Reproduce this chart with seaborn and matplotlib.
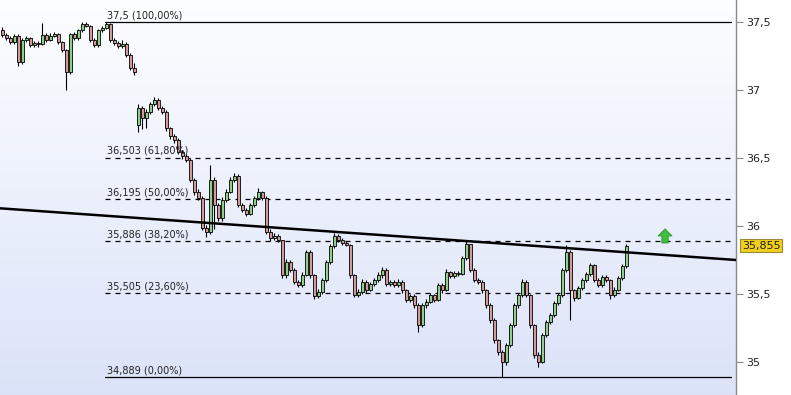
import numpy as np
import pandas as pd
import seaborn as sns
import matplotlib
matplotlib.use("Agg")
import matplotlib.pyplot as plt

# ---------------- data ----------------
opens = [37.441, 37.405, 37.383, 37.353, 37.397, 37.206, 37.368, 37.383, 37.331, 37.346,
         37.338, 37.405, 37.368, 37.397, 37.412, 37.353, 37.294, 37.133, 37.412, 37.383,
         37.441, 37.486, 37.471, 37.368, 37.331, 37.441, 37.456, 37.486, 37.368, 37.346,
         37.324, 37.338, 37.258, 37.162, 36.743, 36.868, 36.794, 36.838, 36.897, 36.927,
         36.868, 36.838, 36.721, 36.662, 36.633, 36.544, 36.515, 36.486, 36.338, 36.250,
         36.206, 35.986, 35.956, 36.338, 36.155, 36.059, 36.191, 36.250, 36.338, 36.368,
         36.155, 36.118, 36.088, 36.155, 36.206, 36.250, 36.206, 35.956, 35.912, 35.927,
         35.897, 35.640, 35.735, 35.677, 35.588, 35.566, 35.640, 35.809, 35.640, 35.485,
         35.515, 35.603, 35.735, 35.853, 35.927, 35.897, 35.875, 35.861, 35.640, 35.493,
         35.515, 35.588, 35.529, 35.574, 35.603, 35.640, 35.677, 35.574, 35.588, 35.566,
         35.588, 35.529, 35.456, 35.485, 35.419, 35.272, 35.419, 35.441, 35.493, 35.456,
         35.566, 35.529, 35.662, 35.633, 35.655, 35.647, 35.765, 35.868, 35.677, 35.603,
         35.588, 35.529, 35.419, 35.309, 35.162, 35.074, 35.000, 35.125, 35.272, 35.419,
         35.493, 35.588, 35.493, 35.272, 35.052, 35.000, 35.199, 35.294, 35.346, 35.434,
         35.493, 35.677, 35.809, 35.529, 35.471, 35.544, 35.603, 35.647, 35.713, 35.603,
         35.566, 35.625, 35.603, 35.493, 35.529, 35.618, 35.706]
highs = [37.46, 37.42, 37.40, 37.41, 37.41, 37.38, 37.40, 37.39, 37.36, 37.36,
         37.49, 37.42, 37.42, 37.43, 37.42, 37.36, 37.30, 37.42, 37.43, 37.45,
         37.50, 37.50, 37.48, 37.38, 37.45, 37.47, 37.50, 37.49, 37.38, 37.36,
         37.37, 37.35, 37.27, 37.20, 36.90, 36.88, 36.86, 36.91, 36.95, 36.94,
         36.88, 36.85, 36.73, 36.68, 36.65, 36.56, 36.53, 36.50, 36.35, 36.27,
         36.22, 36.01, 36.45, 36.36, 36.17, 36.21, 36.27, 36.36, 36.39, 36.38,
         36.17, 36.13, 36.17, 36.22, 36.28, 36.26, 36.22, 35.98, 35.95, 35.94,
         35.90, 35.76, 35.75, 35.69, 35.60, 35.66, 35.82, 35.82, 35.65, 35.54,
         35.62, 35.75, 35.87, 35.95, 35.94, 35.91, 35.89, 35.87, 35.65, 35.54,
         35.61, 35.60, 35.59, 35.62, 35.66, 35.70, 35.69, 35.60, 35.60, 35.61,
         35.60, 35.54, 35.50, 35.50, 35.43, 35.43, 35.46, 35.51, 35.50, 35.58,
         35.58, 35.68, 35.67, 35.67, 35.67, 35.78, 35.89, 35.87, 35.69, 35.62,
         35.60, 35.54, 35.43, 35.32, 35.17, 35.09, 35.14, 35.29, 35.43, 35.51,
         35.61, 35.60, 35.50, 35.28, 35.07, 35.21, 35.31, 35.36, 35.45, 35.51,
         35.69, 35.86, 35.82, 35.54, 35.56, 35.62, 35.66, 35.73, 35.72, 35.62,
         35.64, 35.64, 35.61, 35.55, 35.63, 35.72, 35.87]
lows = [37.39, 37.37, 37.34, 37.34, 37.18, 37.19, 37.35, 37.32, 37.32, 37.32,
        37.33, 37.35, 37.36, 37.39, 37.34, 37.28, 37.00, 37.12, 37.37, 37.37,
        37.43, 37.46, 37.35, 37.32, 37.32, 37.43, 37.45, 37.35, 37.33, 37.31,
        37.31, 37.24, 37.15, 37.11, 36.69, 36.71, 36.72, 36.82, 36.88, 36.85,
        36.82, 36.70, 36.64, 36.61, 36.53, 36.49, 36.47, 36.32, 36.23, 36.19,
        35.97, 35.92, 35.94, 35.98, 36.04, 36.04, 36.18, 36.24, 36.32, 36.14,
        36.10, 36.07, 36.08, 36.14, 36.19, 36.19, 35.94, 35.89, 35.90, 35.88,
        35.62, 35.62, 35.66, 35.57, 35.55, 35.55, 35.63, 35.62, 35.46, 35.47,
        35.50, 35.59, 35.72, 35.84, 35.88, 35.86, 35.85, 35.62, 35.48, 35.48,
        35.50, 35.51, 35.52, 35.56, 35.59, 35.62, 35.56, 35.56, 35.55, 35.55,
        35.51, 35.44, 35.44, 35.40, 35.22, 35.26, 35.40, 35.43, 35.44, 35.45,
        35.51, 35.52, 35.62, 35.62, 35.63, 35.64, 35.75, 35.66, 35.59, 35.57,
        35.51, 35.40, 35.29, 35.14, 35.05, 34.89, 34.98, 35.11, 35.26, 35.40,
        35.48, 35.48, 35.25, 35.03, 34.96, 34.99, 35.18, 35.28, 35.33, 35.42,
        35.48, 35.66, 35.31, 35.45, 35.46, 35.53, 35.59, 35.63, 35.59, 35.55,
        35.55, 35.59, 35.46, 35.48, 35.52, 35.60, 35.69]
closes = [37.405, 37.383, 37.353, 37.397, 37.206, 37.368, 37.383, 37.331, 37.346, 37.338,
          37.405, 37.368, 37.397, 37.412, 37.353, 37.294, 37.133, 37.412, 37.383, 37.441,
          37.486, 37.471, 37.368, 37.331, 37.441, 37.456, 37.486, 37.368, 37.346, 37.324,
          37.338, 37.258, 37.162, 37.133, 36.868, 36.794, 36.838, 36.897, 36.927, 36.868,
          36.838, 36.721, 36.662, 36.633, 36.544, 36.515, 36.486, 36.338, 36.250, 36.206,
          35.986, 35.956, 36.338, 36.155, 36.059, 36.191, 36.250, 36.338, 36.368, 36.155,
          36.118, 36.088, 36.155, 36.206, 36.250, 36.206, 35.956, 35.912, 35.927, 35.897,
          35.640, 35.735, 35.677, 35.588, 35.566, 35.640, 35.809, 35.640, 35.485, 35.515,
          35.603, 35.735, 35.853, 35.927, 35.897, 35.875, 35.861, 35.640, 35.493, 35.515,
          35.588, 35.529, 35.574, 35.603, 35.640, 35.677, 35.574, 35.588, 35.566, 35.588,
          35.529, 35.456, 35.485, 35.419, 35.272, 35.419, 35.441, 35.493, 35.456, 35.566,
          35.529, 35.662, 35.633, 35.655, 35.647, 35.765, 35.868, 35.677, 35.603, 35.588,
          35.529, 35.419, 35.309, 35.162, 35.074, 35.000, 35.125, 35.272, 35.419, 35.493,
          35.588, 35.493, 35.272, 35.052, 35.000, 35.199, 35.294, 35.346, 35.434, 35.493,
          35.677, 35.809, 35.529, 35.471, 35.544, 35.603, 35.647, 35.713, 35.603, 35.566,
          35.625, 35.603, 35.493, 35.529, 35.618, 35.706, 35.855]

fib_levels = [37.5, 36.503, 36.195, 35.886, 35.505, 34.889]
fib_labels = ["37,5 (100,00%)", "36,503 (61,80%)", "36,195 (50,00%)",
              "35,886 (38,20%)", "35,505 (23,60%)", "34,889 (0,00%)"]
fib_solid = [True, False, False, False, False, True]

trend_x = [-0.5, 183.5]
trend_y = [36.13, 35.75]

yticks = [35.0, 35.5, 36.0, 36.5, 37.0, 37.5]
ytick_labels = ["35", "35,5", "36", "36,5", "37", "37,5"]
last_price = 35.855
last_label = "35,855"
signal_x = 165.75
signal_y = [35.875, 35.978]

# ---------------- figure ----------------
sns.set_theme(style="white")
plt.rcParams['font.family'] = ['DejaVu Sans']

W, H = 791, 395
fig = plt.figure(figsize=(W / 100, H / 100), dpi=100)
fig.patch.set_facecolor("white")
ax = fig.add_axes([0, 0, 736 / W, 1])

x_lo, x_hi = -0.5, 183.5
y_lo, y_hi = 34.757, 37.662
ax.set_xlim(x_lo, x_hi)
ax.set_ylim(y_lo, y_hi)

# gradient background
grad = np.linspace(0, 1, 256).reshape(-1, 1)
top = np.array([0.99, 0.995, 1.0])
bot = np.array([0.86, 0.89, 0.975])
img = top[None, None, :] * (1 - grad[:, :, None]) + bot[None, None, :] * grad[:, :, None]
ax.imshow(img, extent=[x_lo, x_hi, y_lo, y_hi], aspect="auto", origin="upper", zorder=0)

df = pd.DataFrame({"open": opens, "high": highs, "low": lows, "close": closes})
df["idx"] = np.arange(len(df))
up = df["close"] >= df["open"]

# wicks
ax.vlines(df["idx"], df["low"], df["high"], color="black", linewidth=0.8, zorder=2)
# bodies
body_bottom = np.minimum(df["open"], df["close"])
body_h = np.maximum(np.abs(df["close"] - df["open"]), 0.004)
colors = np.where(up, "#8fcf8a", "#d29a9a")
ax.bar(df["idx"], body_h, bottom=body_bottom, width=0.75, color=colors,
       edgecolor="black", linewidth=0.6, zorder=3)

# fib lines
fx0, fx1 = (105 - 2) / 4, (731 - 2) / 4
for lvl, lab, solid in zip(fib_levels, fib_labels, fib_solid):
    ax.plot([fx0, fx1], [lvl, lvl], color="black", linewidth=0.9,
            linestyle="-" if solid else (0, (4, 4)), zorder=1.5)
    ax.text(fx0 + 0.5, lvl + 0.012, lab, fontsize=7, color="#222222",
            ha="left", va="bottom", zorder=4)

# trendline
trend_df = pd.DataFrame({"x": trend_x, "y": trend_y})
sns.lineplot(data=trend_df, x="x", y="y", ax=ax, color="black", linewidth=1.8, zorder=5)

# signal arrow
ax.annotate("", xy=(signal_x, signal_y[1]), xytext=(signal_x, signal_y[0]),
            arrowprops=dict(arrowstyle="simple,head_width=1.0,head_length=0.5,tail_width=0.45",
                            mutation_scale=10, shrinkA=0, shrinkB=0,
                            fc="#3fbf3f", ec="#2a8f2a", lw=0.6), zorder=6)

# axes styling
for s in ["top", "left", "bottom"]:
    ax.spines[s].set_visible(False)
ax.spines["right"].set_visible(True)
ax.spines["right"].set_color("#8a8a8a")
ax.spines["right"].set_linewidth(1.0)
ax.set_xticks([])
ax.yaxis.tick_right()
ax.set_yticks(yticks)
ax.set_yticklabels(ytick_labels)
ax.tick_params(axis="y", direction="out", length=5, width=0.8, color="#8a8a8a",
               labelsize=8, labelcolor="#222222", pad=2, right=True, left=False)
ax.set_xlabel("")
ax.set_ylabel("")
if ax.get_legend() is not None:
    ax.get_legend().remove()

# last price label
ax.text(1.0 + 6 / 736, last_price, last_label, transform=ax.get_yaxis_transform(),
        fontsize=8, color="#222222", ha="left", va="center",
        bbox=dict(boxstyle="square,pad=0.15", fc="#f2cf1d", ec="#9a8a3a", lw=0.8),
        clip_on=False, zorder=7)

fig.savefig("out.png", dpi=100)
